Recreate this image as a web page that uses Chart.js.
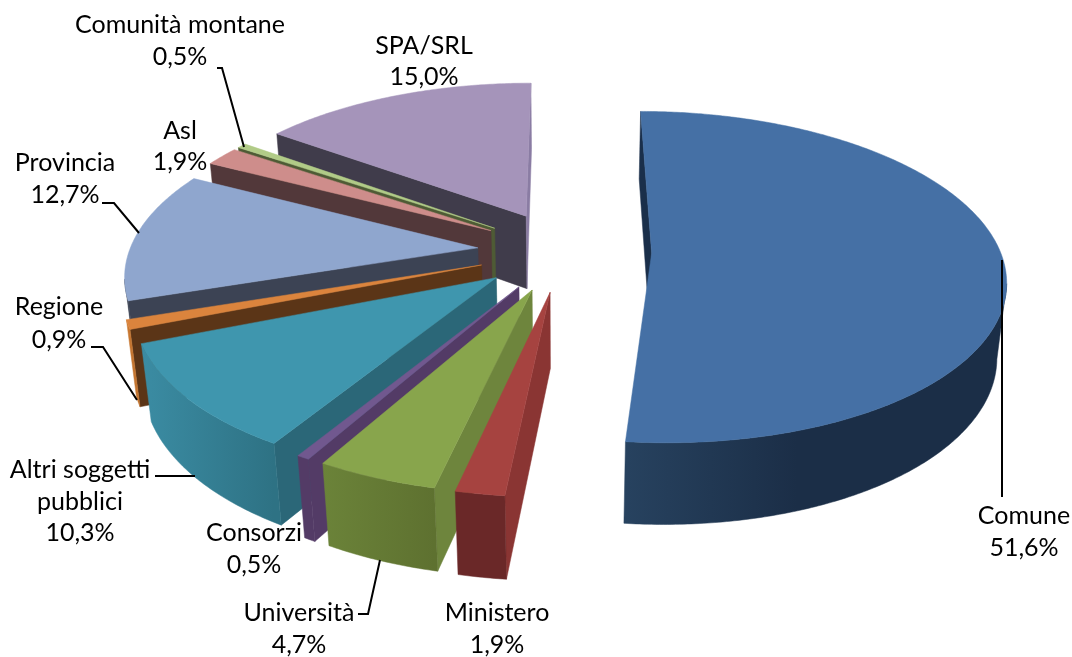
<!DOCTYPE html>
<html>
<head>
<meta charset="utf-8">
<style>html,body{margin:0;padding:0;background:#fff}canvas{display:block}</style>
<script src="https://cdn.jsdelivr.net/npm/chart.js@4"></script>
</head>
<body>
<canvas id="c" width="1072" height="657"></canvas>
<script>
const categories = ["Comune","Ministero","Università","Consorzi","Altri soggetti pubblici","Regione","Provincia","Asl","Comunità montane","SPA/SRL"];
const shares = [51.6,1.9,4.7,0.5,10.3,0.9,12.7,1.9,0.5,15.0];
const shareLabels = ["51,6%","1,9%","4,7%","0,5%","10,3%","0,9%","12,7%","1,9%","0,5%","15,0%"];
const topColors = ["#4570A5","#A64340","#88A54C","#71588F","#3F96AE","#DB843D","#8FA6CE","#CE8D8B","#B1CB87","#A594BA"];
const faceColors = ["#1A2F4A","#8A3533","#6E853D","#533B66","#2B6778","#5B3517","#3C4354","#52383A","#4E5B35","#403C4B"];
const endFaceColors = ["#1A2F4A","#8A3533","#6E853D","#533B66","#2B6778","#5B3517","#3C4354","#52383A","#4E5B35","#8A7CA3"];
const rimLeft = ["#27425F","#6A2828","#6B8339","#533B66","#3B8CA3","#D07E35","#3C4354","#52383A","#4E5B35","#403C4B"];
const rimRight = ["#1B2E47","#6A2828","#5E7130","#533B66","#2E7284","#C47530","#3C4354","#52383A","#4E5B35","#403C4B"];

/* view of the tilted pie, in px */
const view = {rx:348.5, ry:161.6, persp:0.145, sink:0.022, depth:75.7, explode:0.25};
/* label text: centre x and baselines, drawn line by line */
const labelLayout = [
 {i:0,x:1024,y:[524,556],name:["Comune"]},
 {i:1,x:497,y:[621,653],name:["Ministero"]},
 {i:2,x:299,y:[621,653],name:["Università"]},
 {i:3,x:254,y:[541,573],name:["Consorzi"]},
 {i:4,x:80,y:[478,510,541],name:["Altri soggetti","pubblici"]},
 {i:5,x:59,y:[315,348],name:["Regione"]},
 {i:6,x:65,y:[171,203],name:["Provincia"]},
 {i:7,x:180,y:[139,170],name:["Asl"]},
 {i:8,x:180,y:[33,65],name:["Comunità montane"]},
 {i:9,x:424,y:[54,85],name:["SPA/SRL"]}
];
const leaders = [
 [[217,68],[222,68],[244,147]],
 [[102,203],[114,203],[139,233]],
 [[91,347],[103,347],[137,400]],
 [[155,476],[195,476]],
 [[358,614],[368,614],[380,560]],
 [[1002,260],[1002,497]]
];

const pie3d = {
 id:'pie3d',
 beforeDatasetsDraw(chart){
  const ctx = chart.ctx, meta = chart.getDatasetMeta(0);
  const camY = 1/view.persp;
  const project = (el,X,Y,z)=>{
    const w = 1 + view.persp*Y + view.sink*z;
    return [el.x + view.rx*X/w, el.y + (-view.ry*Y + z*view.depth)/w];
  };
  const slices = meta.data.map((el,i)=>{
    const a0 = el.startAngle + Math.PI/2, a1 = el.endAngle + Math.PI/2, m=(a0+a1)/2;
    return {el,i,a0,a1,ox:view.explode*Math.sin(m),oy:view.explode*Math.cos(m)};
  });
  slices.sort((p,q)=>q.oy-p.oy);
  const poly=(pts,fill)=>{
    ctx.beginPath();
    pts.forEach((p,k)=>k?ctx.lineTo(p[0],p[1]):ctx.moveTo(p[0],p[1]));
    ctx.closePath();
    ctx.fillStyle=fill; ctx.strokeStyle=fill; ctx.lineWidth=0.5;
    ctx.fill(); ctx.stroke();
  };
  for(const s of slices){
    const n=Math.max(2,Math.ceil((s.a1-s.a0)/0.01));
    const angle=k=>s.a0+(s.a1-s.a0)*k/n;
    const at=(t,z)=>project(s.el,s.ox+Math.sin(t),s.oy+Math.cos(t),z);
    const apexT=project(s.el,s.ox,s.oy,0), apexB=project(s.el,s.ox,s.oy,1);
    const faces=(nx,ny)=>s.ox*nx+(s.oy+camY)*ny<0;
    // radial faces that look towards the viewer
    if(faces(-Math.cos(s.a0),Math.sin(s.a0))) poly([apexT,at(s.a0,0),at(s.a0,1),apexB],faceColors[s.i]);
    if(faces(Math.cos(s.a1),-Math.sin(s.a1))) poly([apexT,at(s.a1,0),at(s.a1,1),apexB],endFaceColors[s.i]);
    // outer rim, only the part that looks towards the viewer
    const topAll=[],rimT=[],rimB=[];
    for(let k=0;k<=n;k++){
      const t=angle(k),X=s.ox+Math.sin(t),Y=s.oy+Math.cos(t);
      topAll.push(at(t,0));
      if(X*Math.sin(t)+(Y+camY)*Math.cos(t)<0){rimT.push(at(t,0));rimB.push(at(t,1));}
    }
    if(rimT.length>1){
      const xs=topAll.map(p=>p[0]);
      const g=ctx.createLinearGradient(Math.min(...xs),0,Math.max(...xs),0);
      g.addColorStop(0,rimLeft[s.i]);
      g.addColorStop(s.i===0?0.45:1,rimRight[s.i]);
      g.addColorStop(1,rimRight[s.i]);
      poly(rimT.concat(rimB.slice().reverse()),g);
    }
    // top surface
    poly([apexT].concat(topAll),topColors[s.i]);
  }
  return false;
 },
 afterDraw(chart){
  const ctx=chart.ctx;
  ctx.save();
  ctx.strokeStyle='#000';ctx.lineWidth=2;
  for(const l of leaders){ctx.beginPath();l.forEach((p,k)=>k?ctx.lineTo(p[0],p[1]):ctx.moveTo(p[0],p[1]));ctx.stroke();}
  ctx.fillStyle='#000';ctx.font='25px Lato';ctx.textAlign='center';ctx.textBaseline='alphabetic';
  for(const t of labelLayout){
    const lines=t.name.concat([shareLabels[t.i]]);
    lines.forEach((s,k)=>ctx.fillText(s,t.x,t.y[k]));
  }
  ctx.restore();
 }
};

new Chart(document.getElementById('c'),{
 type:'pie',
 data:{labels:categories,datasets:[{data:shares,backgroundColor:topColors,borderWidth:0}]},
 options:{responsive:false,animation:false,rotation:0,
  layout:{padding:{left:57,bottom:155}},
  plugins:{legend:{display:false},tooltip:{enabled:false}}},
 plugins:[pie3d]
});
</script>
</body>
</html>
